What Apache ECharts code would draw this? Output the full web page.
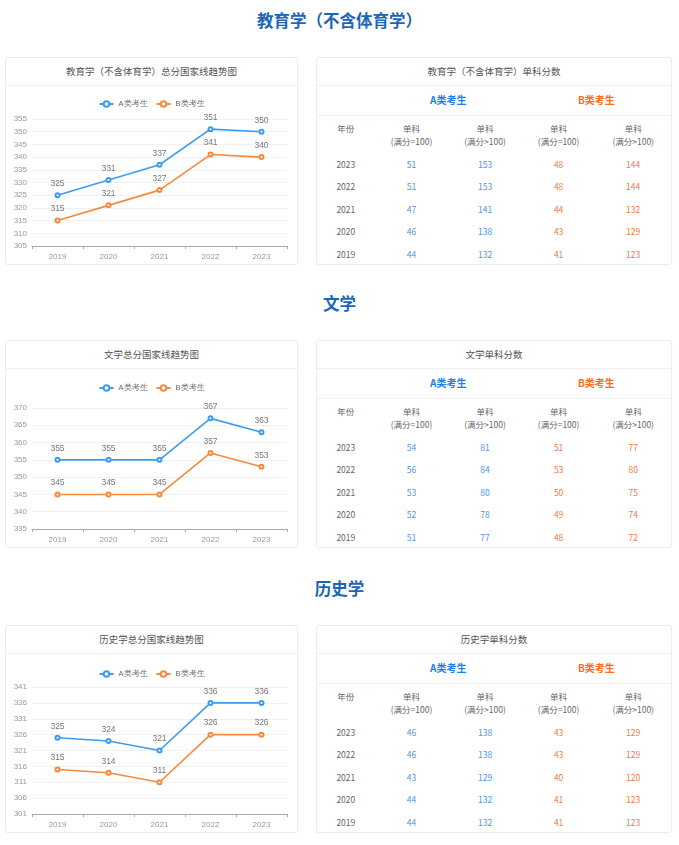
<!DOCTYPE html>
<html>
<head>
<meta charset="utf-8">
<script src="https://cdn.jsdelivr.net/npm/echarts@6/dist/echarts.min.js"></script>
<style>
  html,body{margin:0;padding:0;background:#fff;}
  body{width:679px;height:845px;position:relative;overflow:hidden;font-family:"Noto Sans CJK SC","Noto Sans",sans-serif;}
  .sec{position:absolute;left:0;width:679px;text-align:center;font-size:16.5px;font-weight:bold;color:#1a66b3;line-height:20px;}
  .panel{position:absolute;border:1px solid #ececec;border-radius:3px;box-sizing:border-box;background:#fff;box-shadow:0 0 2px rgba(0,0,0,0.03);}
  .ptitle{position:absolute;left:0;right:0;text-align:center;font-size:9.5px;color:#555;line-height:12px;}
  .divider{position:absolute;left:0;right:0;height:1px;background:#f0f0f0;}
  .chart{position:absolute;left:0;top:0;right:0;bottom:0;}
  .row{position:absolute;left:0;right:0;display:flex;}
  .cell{text-align:center;font-size:8.5px;line-height:12px;color:#666;white-space:nowrap;}
  .grp{text-align:center;font-size:10px;font-weight:bold;line-height:14px;}
</style>
</head>
<body>
<script>
// ---------- data ----------
const years = ['2019', '2020', '2021', '2022', '2023'];
const legendA = 'A类考生';
const legendB = 'B类考生';

const eduTotalA = [325, 331, 337, 351, 350];
const eduTotalB = [315, 321, 327, 341, 340];
const litTotalA = [355, 355, 355, 367, 363];
const litTotalB = [345, 345, 345, 357, 353];
const hisTotalA = [325, 324, 321, 336, 336];
const hisTotalB = [315, 314, 311, 326, 326];

const tableYears = ['2023', '2022', '2021', '2020', '2019'];
const headerTop = ['年份', '单科', '单科', '单科', '单科'];
const headerSub = ['', '(满分=100)', '(满分&gt;100)', '(满分=100)', '(满分&gt;100)'];
const eduA100 = [51, 51, 47, 46, 44];
const eduAgt = [153, 153, 141, 138, 132];
const eduB100 = [48, 48, 44, 43, 41];
const eduBgt = [144, 144, 132, 129, 123];
const litA100 = [54, 56, 53, 52, 51];
const litAgt = [81, 84, 80, 78, 77];
const litB100 = [51, 53, 50, 49, 48];
const litBgt = [77, 80, 75, 74, 72];
const hisA100 = [46, 46, 43, 44, 44];
const hisAgt = [138, 138, 129, 132, 132];
const hisB100 = [43, 43, 40, 41, 41];
const hisBgt = [129, 129, 120, 123, 123];

const sections = [
  {name: '教育学（不含体育学）', top: 0, secY: 10, chartTitle: '教育学（不含体育学）总分国家线趋势图', tableTitle: '教育学（不含体育学）单科分数',
   A: eduTotalA, B: eduTotalB, min: 305, max: 355, gridTop: 61, legendTop: 37,
   tbl: [eduA100, eduAgt, eduB100, eduBgt]},
  {name: '文学', top: 283, secY: 293, chartTitle: '文学总分国家线趋势图', tableTitle: '文学单科分数',
   A: litTotalA, B: litTotalB, min: 335, max: 370, gridTop: 67, legendTop: 38,
   tbl: [litA100, litAgt, litB100, litBgt]},
  {name: '历史学', top: 568, secY: 578, chartTitle: '历史学总分国家线趋势图', tableTitle: '历史学单科分数',
   A: hisTotalA, B: hisTotalB, min: 301, max: 341, gridTop: 61, legendTop: 39,
   tbl: [hisA100, hisAgt, hisB100, hisBgt]}
];

const colA = '#3b9cf0', colB = '#f58a3c';
const colAHead = '#1a80f0', colBHead = '#ff6a1e';
const colAVal = '#4f95e3', colBVal = '#f07a42';
const colW = [58, 74, 74, 74, 76];

function el(tag, cls, style, text) {
  const d = document.createElement(tag);
  if (cls) d.className = cls;
  if (style) Object.assign(d.style, style);
  if (text !== undefined) d.innerHTML = text;
  return d;
}

sections.forEach(s => {
  const pTop = s.top + 57;
  document.body.appendChild(el('div', 'sec', {top: s.secY + 'px'}, s.name));

  // chart panel
  const cp = el('div', 'panel', {left: '5px', top: pTop + 'px', width: '293px', height: '208px'});
  cp.appendChild(el('div', 'ptitle', {top: '7px'}, s.chartTitle));
  cp.appendChild(el('div', 'divider', {top: '27px'}));
  const cdiv = el('div', 'chart');
  cp.appendChild(cdiv);
  document.body.appendChild(cp);

  const chart = echarts.init(cdiv, null, {renderer: 'canvas'});
  const labelStyle = {show: true, position: 'top', color: '#777', fontSize: 8.5, distance: 4};
  chart.setOption({
    animation: false,
    legend: {
      top: s.legendTop, left: 'center', itemWidth: 14, itemHeight: 7, itemGap: 8,
      textStyle: {fontSize: 7.5, color: '#666'},
      data: [legendA, legendB]
    },
    grid: {left: 26, right: 10, top: s.gridTop, bottom: 208 - 2 - 188, containLabel: false},
    xAxis: {
      type: 'category', data: years, boundaryGap: true,
      axisLine: {lineStyle: {color: '#aaa'}},
      axisTick: {show: true, length: 3, lineStyle: {color: '#aaa'}},
      axisLabel: {color: '#999', fontSize: 8, margin: 7}
    },
    yAxis: {
      type: 'value', min: s.min, max: s.max, interval: 5,
      axisLine: {show: false}, axisTick: {show: false},
      axisLabel: {color: '#999', fontSize: 8, margin: 5},
      splitLine: {lineStyle: {color: '#f0f0f0'}}
    },
    series: [
      {name: legendA, type: 'line', data: s.A, color: colA, symbol: 'emptyCircle', symbolSize: 4,
       lineStyle: {width: 1.6}, itemStyle: {borderWidth: 1.5}, label: labelStyle},
      {name: legendB, type: 'line', data: s.B, color: colB, symbol: 'emptyCircle', symbolSize: 4,
       lineStyle: {width: 1.6}, itemStyle: {borderWidth: 1.5}, label: labelStyle}
    ]
  });

  // table panel
  const tp = el('div', 'panel', {left: '316px', top: pTop + 'px', width: '356px', height: '208px'});
  tp.appendChild(el('div', 'ptitle', {top: '7px'}, s.tableTitle));
  tp.appendChild(el('div', 'divider', {top: '27px'}));
  tp.appendChild(el('div', 'divider', {top: '57px'}));
  const grp = el('div', 'row', {top: '35px'});
  grp.appendChild(el('div', 'grp', {width: colW[0] + 'px'}, ''));
  grp.appendChild(el('div', 'grp', {width: (colW[1] + colW[2]) + 'px', color: colAHead}, legendA));
  grp.appendChild(el('div', 'grp', {width: (colW[3] + colW[4]) + 'px', color: colBHead}, legendB));
  tp.appendChild(grp);

  const hdr = el('div', 'row', {top: '64px'});
  headerTop.forEach((t, i) => {
    const txt = headerSub[i] ? (t + '<br>' + headerSub[i]) : t;
    hdr.appendChild(el('div', 'cell', {width: colW[i] + 'px', lineHeight: '13px'}, txt));
  });
  tp.appendChild(hdr);

  tableYears.forEach((y, r) => {
    const row = el('div', 'row', {top: (100 + r * 22.4) + 'px'});
    row.appendChild(el('div', 'cell', {width: colW[0] + 'px', color: '#666'}, y));
    s.tbl.forEach((arr, c) => {
      row.appendChild(el('div', 'cell', {width: colW[c + 1] + 'px', color: c < 2 ? colAVal : colBVal}, String(arr[r])));
    });
    tp.appendChild(row);
  });
  document.body.appendChild(tp);
});
</script>
</body>
</html>
